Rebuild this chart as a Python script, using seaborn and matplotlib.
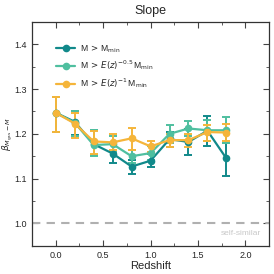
import numpy as np
import pandas as pd
import matplotlib
matplotlib.use("Agg")
import matplotlib.pyplot as plt
import seaborn as sns

redshift = [0.0, 0.2, 0.4, 0.6, 0.8, 1.0, 1.2, 1.4, 1.6, 1.8]

slope_mmin = [1.247, 1.227, 1.177, 1.156, 1.127, 1.140, 1.188, 1.182, 1.207, 1.145]
lo_mmin = [1.204, 1.197, 1.152, 1.135, 1.110, 1.125, 1.170, 1.152, 1.172, 1.105]
hi_mmin = [1.283, 1.252, 1.208, 1.178, 1.142, 1.155, 1.205, 1.210, 1.240, 1.180]

slope_ez05 = [1.247, 1.225, 1.175, 1.177, 1.150, 1.157, 1.200, 1.212, 1.208, 1.208]
lo_ez05 = [1.204, 1.195, 1.150, 1.160, 1.135, 1.142, 1.180, 1.195, 1.185, 1.180]
hi_ez05 = [1.283, 1.250, 1.208, 1.196, 1.165, 1.172, 1.220, 1.229, 1.230, 1.237]

slope_ez1 = [1.247, 1.223, 1.183, 1.181, 1.190, 1.172, 1.186, 1.186, 1.204, 1.203]
lo_ez1 = [1.204, 1.191, 1.156, 1.165, 1.165, 1.160, 1.170, 1.170, 1.183, 1.183]
hi_ez1 = [1.283, 1.247, 1.207, 1.200, 1.213, 1.185, 1.200, 1.200, 1.220, 1.222]

labels = [r"M$\,>\,$M$_{\rm min}$",
          r"M$\,>\,E(z)^{-0.5}\,$M$_{\rm min}$",
          r"M$\,>\,E(z)^{-1}\,$M$_{\rm min}$"]
colors = ["#11898a", "#4fbf9f", "#f5b53a"]

series = [(slope_mmin, lo_mmin, hi_mmin),
          (slope_ez05, lo_ez05, hi_ez05),
          (slope_ez1, lo_ez1, hi_ez1)]

rows = []
for lab, (s, lo, hi) in zip(labels, series):
    for z, v, l, h in zip(redshift, s, lo, hi):
        rows.append({"z": z, "slope": v, "lo": l, "hi": h, "sel": lab})
df = pd.DataFrame(rows)

sns.set_style("ticks")
plt.rcParams["font.family"] = ["Liberation Sans", "DejaVu Sans"]
plt.rcParams["mathtext.fontset"] = "dejavusans"
plt.rcParams["figure.facecolor"] = "white"
plt.rcParams["axes.facecolor"] = "white"

fig = plt.figure(figsize=(2.74, 2.74), dpi=100, facecolor="white")
ax = fig.add_axes([0.117, 0.103, 0.865, 0.817])
ax.set_facecolor("white")

for lab, col in zip(labels, colors):
    d = df[df["sel"] == lab]
    ax.errorbar(d["z"], d["slope"], yerr=[d["slope"] - d["lo"], d["hi"] - d["slope"]],
                fmt="none", ecolor=col, elinewidth=1.4, capsize=2.8, capthick=1.4, zorder=2)

sns.lineplot(data=df, x="z", y="slope", hue="sel", hue_order=labels, palette=colors,
             marker="o", markersize=5.5, markeredgewidth=0, linewidth=1.6,
             ax=ax, zorder=3, estimator=None, sort=False)

ax.axhline(1.0, color="#b0b0b0", linestyle="--", linewidth=1.5, dashes=(4, 3), zorder=1)
ax.text(2.17, 0.985, "self-similar", color="#c8c8c8", fontsize=6, ha="right", va="top")

ax.set_xlim(-0.2, 2.2)
ax.set_ylim(0.95, 1.45)
ax.set_xticks([0.0, 0.5, 1.0, 1.5, 2.0])
ax.set_yticks([1.0, 1.1, 1.2, 1.3, 1.4])
ax.set_xticks(np.arange(-0.25, 2.3, 0.25), minor=True)
ax.set_yticks(np.arange(0.95, 1.46, 0.05), minor=True)
ax.tick_params(which="both", direction="in", top=True, right=True, labelsize=6.5, color="#444444")
ax.tick_params(which="major", length=4, width=0.8)
ax.tick_params(which="minor", length=2, width=0.6)
for sp in ax.spines.values():
    sp.set_linewidth(0.9)
    sp.set_color("#333333")

ax.set_xlabel("Redshift", fontsize=8, labelpad=1)
ax.set_ylabel(r"$\beta_{M_{\rm gas}-M}$", fontsize=6.5, labelpad=0)
ax.set_title("Slope", fontsize=9, pad=6)

leg = ax.legend(loc="upper left", bbox_to_anchor=(0.07, 0.94), frameon=False, fontsize=6.2,
                handlelength=2.2, labelspacing=0.45, handletextpad=0.5)
for h in leg.legend_handles:
    h.set_linewidth(1.6)

fig.savefig("out.png", dpi=100, facecolor="white")
